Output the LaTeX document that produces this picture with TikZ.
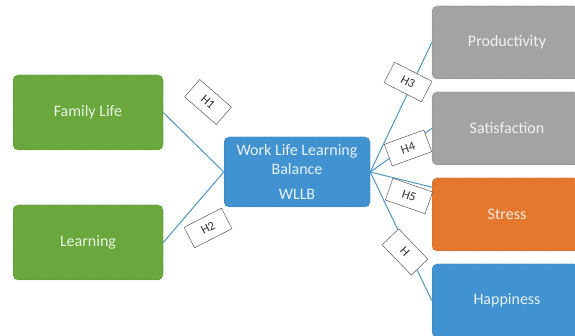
\documentclass[tikz,border=0pt]{standalone}
\usepackage{fontspec}
\setmainfont{Carlito}
\usepackage{xcolor}
\usepackage{tikz}
\usetikzlibrary{positioning}
\definecolor{famgreen}{RGB}{106,168,62}
\definecolor{wllbblue}{RGB}{64,146,208}
\definecolor{outgrey}{RGB}{163,163,163}
\definecolor{stressorange}{RGB}{228,120,46}
\definecolor{linkblue}{RGB}{80,150,195}
\tikzset{ % global config
    x=1pt, y=-1pt, % one unit is one pixel of the sketch, y runs down
    node distance=86pt, % distance between the outcome boxes
    box/.style={rectangle, rounded corners=5pt, densely dotted, line width=0.5pt,
        align=center, font=\fontsize{16}{19}\selectfont}, % common look of all boxes
    famnode/.style={box, fill=famgreen, draw=famgreen!70!black, text=white!85!famgreen,
        minimum width=150pt, minimum height=75pt},
    wllbnode/.style={box, fill=wllbblue, draw=wllbblue!70!black, text=white!88!wllbblue,
        minimum width=146pt, minimum height=70pt},
    outnode/.style={box, minimum width=150pt, minimum height=73pt},
    greynode/.style={outnode, fill=outgrey, draw=outgrey!70!black, text=white!85!outgrey},
    stressnode/.style={outnode, fill=stressorange, draw=stressorange!70!black, text=white!85!stressorange},
    happynode/.style={outnode, fill=wllbblue, draw=wllbblue!70!black, text=white!88!wllbblue},
    hyp/.style={rectangle, draw=black!65, fill=white, line width=0.5pt,
        minimum width=42pt, minimum height=23pt, inner sep=1pt, text=black!80,
        font=\fontsize{12.5}{14}\selectfont}, % hypothesis tags
    link/.style={draw=linkblue, line width=1pt}, % connectors
}
\begin{document}
\begin{tikzpicture}

		\fill[white] (0,0) rectangle (575,336);
		\useasboundingbox (0,0) rectangle (575,336);

		\node[famnode] (family) at (88,112.5) {Family Life};
		\node[famnode, below of = family, node distance=130pt] (learning) {Learning};
		\node[wllbnode] (wllb) at (297,172) {Work Life Learning\\Balance\\[6pt]WLLB};
		\node[greynode] (prod) at (507,42.5) {Productivity};
		\node[greynode, below of = prod] (sat) {Satisfaction};
		\node[stressnode, below of = sat] (stress) {Stress};
		\node[happynode, below of = stress] (happy) {Happiness};

		\draw[link] (family.east) -- (wllb.west);
		\draw[link] (learning.east) -- (wllb.west);
		\draw[link] (wllb.east) -- (prod.west);
		\draw[link] (wllb.east) -- (sat.west);
		\draw[link] (wllb.east) -- (stress.160);
		\draw[link] (wllb.east) -- (happy.west);

		\node[hyp, rotate=-41] (h1) at (208,102) {H1};
		\node[hyp, rotate=27] (h2) at (208,228) {H2};
		\node[hyp, rotate=-27] (h3) at (408,82) {H3};
		\node[hyp, rotate=20] (h4) at (408,148) {H4};
		\node[hyp, rotate=-19] (h5) at (409,196) {H5};
		\node[hyp, rotate=-46] (h6) at (405,252) {H};

	\end{tikzpicture}
\end{document}
